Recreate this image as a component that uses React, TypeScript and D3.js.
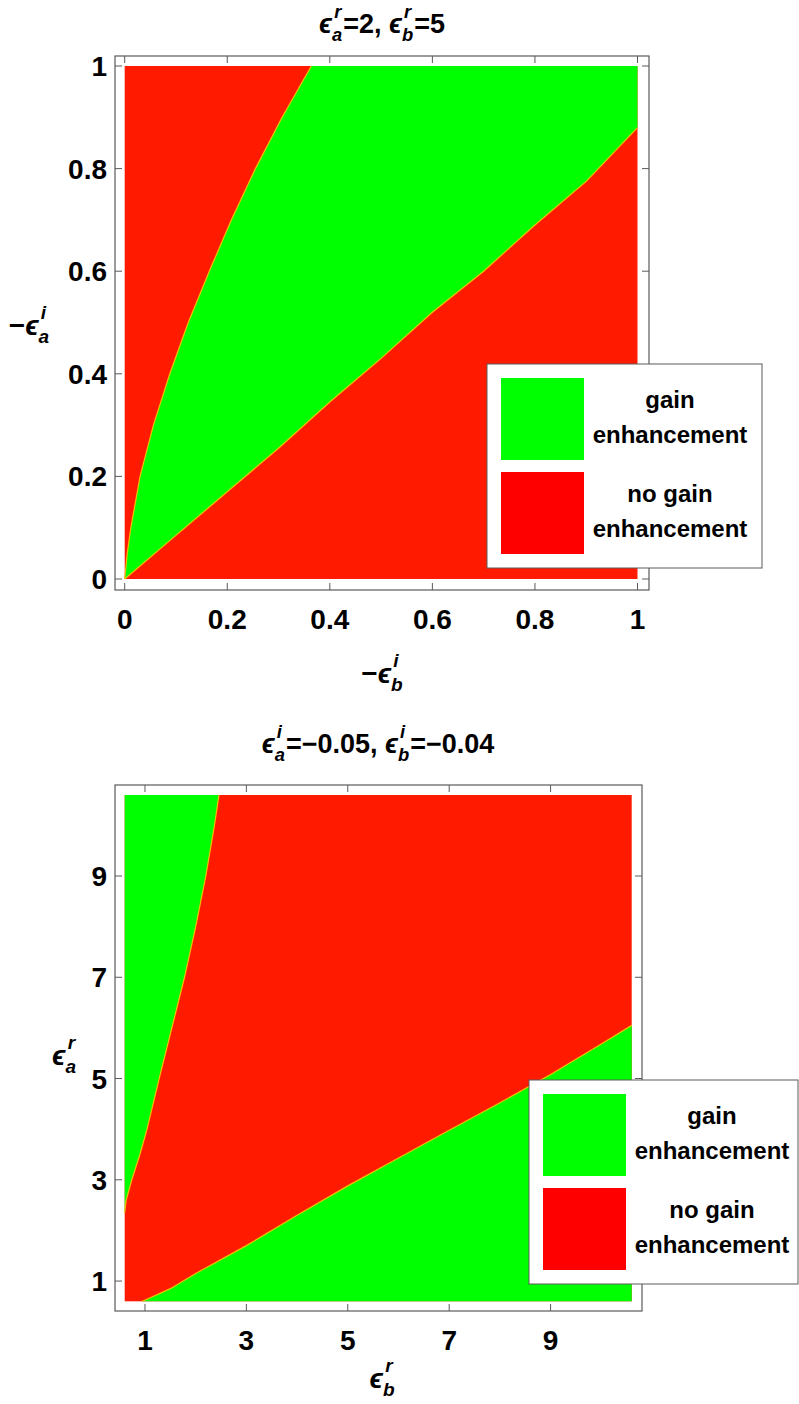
import React from "react";
import * as d3 from "d3";

// ---- top panel: x = -eps_b^i, y = -eps_a^i ----
const topTicks = [0, 0.2, 0.4, 0.6, 0.8, 1];
const topTickLabels = ["0", "0.2", "0.4", "0.6", "0.8", "1"];
const topUpperY = [0, 0.05, 0.1, 0.2, 0.3, 0.4, 0.5, 0.6, 0.7, 0.8, 0.9, 1.0];
const topUpperX = [0, 0.005, 0.012, 0.03, 0.056, 0.088, 0.124, 0.165, 0.208, 0.255, 0.307, 0.364];
const topLowerX = [0, 0.1, 0.2, 0.3, 0.4, 0.5, 0.6, 0.7, 0.8, 0.9, 1.0];
const topLowerY = [0, 0.085, 0.17, 0.255, 0.345, 0.43, 0.52, 0.6, 0.69, 0.775, 0.88];

// ---- bottom panel: x = eps_b^r, y = eps_a^r ----
const botTicks = [1, 3, 5, 7, 9];
const botTickLabels = ["1", "3", "5", "7", "9"];
// edge of the green strip on the left
const botLeftY = [2.35, 2.6, 3, 3.5, 4, 4.5, 5, 6, 7, 8, 9, 10, 10.6];
const botLeftX = [0.6, 0.63, 0.74, 0.9, 1.04, 1.16, 1.28, 1.53, 1.78, 2.0, 2.2, 2.37, 2.46];
// edge of the green region at the bottom right
const botLowerX = [0.95, 1.5, 2, 3, 4, 5, 6, 7, 8, 9, 10, 10.6];
const botLowerY = [0.6, 0.85, 1.15, 1.7, 2.3, 2.88, 3.43, 3.98, 4.52, 5.08, 5.68, 6.05];

const legendLabels = [["gain", "enhancement"], ["no gain", "enhancement"]];

const FONT = "'Liberation Sans', Arial, 'DejaVu Sans', sans-serif";
const RED = "#ff1a00";
const GREEN = "#00ff00";
const LEG_RED = "#ff0000";
const FRAME = "#5a5a5a";
const EDGE = "#f0c000";

type Part = string | { sub: string; sup: string };

const charW: Record<string, number> = { a: 0.556, b: 0.611, r: 0.389, i: 0.278 };

function RichText({ x, y, parts, fs, anchor = "middle" }: { x: number; y: number; parts: Part[]; fs: number; anchor?: string }) {
    const small = fs * 0.68;
    const kids: any[] = [];
    let dx = 0, dy = 0;
    parts.forEach((p, i) => {
        if (typeof p === "string") {
            kids.push(<tspan key={i} dx={dx || undefined} dy={dy || undefined}>{p}</tspan>);
            dx = 0; dy = 0;
        } else {
            kids.push(<tspan key={i + "e"} fontStyle="italic" dx={dx || undefined} dy={dy || undefined}>ϵ</tspan>);
            const sw = charW[p.sub] * small;
            const pw = charW[p.sup] * small;
            const shift = fs * 0.08;
            kids.push(<tspan key={i + "b"} fontStyle="italic" fontSize={small} dy={fs * 0.28}>{p.sub}</tspan>);
            kids.push(<tspan key={i + "p"} fontStyle="italic" fontSize={small} dx={-sw + shift} dy={-fs * 0.28 - fs * 0.56}>{p.sup}</tspan>);
            dx = Math.max(sw - pw - shift, 0) + 1;
            dy = fs * 0.56;
        }
    });
    return (
        <text x={x} y={y} fontSize={fs} fontWeight="bold" fontFamily={FONT} textAnchor={anchor} fill="#000">
            {kids}
        </text>
    );
}

function Legend({ x, y, w }: { x: number; y: number; w: number }) {
    const colors = [GREEN, LEG_RED];
    return (
        <g>
            <rect x={x} y={y} width={w} height={204} fill="#fff" stroke={FRAME} strokeWidth={1} />
            {legendLabels.map((lines, i) => (
                <g key={i}>
                    <rect x={x + 14} y={y + 14 + i * 94} width={83} height={82} fill={colors[i]} />
                    {lines.map((t, j) => (
                        <text key={j} x={x + 183} y={y + 44 + i * 94 + j * 35} fontSize={24} fontWeight="bold"
                            fontFamily={FONT} textAnchor="middle">{t}</text>
                    ))}
                </g>
            ))}
        </g>
    );
}

function Frame({ x, y, frame, ticks, labels }: any) {
    const [fl, fr, ft, fb] = frame;
    const tl = 7;
    return (
        <g>
            <rect x={fl} y={ft} width={fr - fl} height={fb - ft} fill="none" stroke={FRAME} strokeWidth={1.2} />
            {ticks.map((t: number, i: number) => (
                <g key={i} stroke={FRAME} strokeWidth={1}>
                    <line x1={x(t)} x2={x(t)} y1={fb} y2={fb - tl} />
                    <line x1={x(t)} x2={x(t)} y1={ft} y2={ft + tl} />
                    <line x1={fl} x2={fl + tl} y1={y(t)} y2={y(t)} />
                    <line x1={fr} x2={fr - tl} y1={y(t)} y2={y(t)} />
                </g>
            ))}
            {ticks.map((t: number, i: number) => (
                <g key={"l" + i} fontSize={28} fontWeight="bold" fontFamily={FONT}>
                    <text x={x(t)} y={fb + 38.5} textAnchor="middle">{labels[i]}</text>
                    <text x={fl - 8} y={y(t) + 10} textAnchor="end">{labels[i]}</text>
                </g>
            ))}
        </g>
    );
}

function TopPanel() {
    const x = d3.scaleLinear().domain([0, 1]).range([124.7, 637.5]);
    const y = d3.scaleLinear().domain([0, 1]).range([579, 66]);
    const line = d3.line<[number, number]>().x(d => x(d[0])).y(d => y(d[1]));
    const upper: [number, number][] = topUpperY.map((v, i) => [topUpperX[i], v]);
    const lower: [number, number][] = topLowerX.map((v, i) => [v, topLowerY[i]]);
    const green: [number, number][] = [...upper, [1, 1], ...lower.slice().reverse()];
    return (
        <g>
            <rect x={x(0)} y={y(1)} width={x(1) - x(0)} height={y(0) - y(1)} fill={RED} />
            <path d={line(green) + "Z"} fill={GREEN} />
            <path d={line(upper) || ""} fill="none" stroke={EDGE} strokeWidth={1.2} />
            <path d={line(lower) || ""} fill="none" stroke={EDGE} strokeWidth={1.2} />
            <Frame x={x} y={y} frame={[115, 649, 56, 590]} ticks={topTicks} labels={topTickLabels} />
            <RichText x={382} y={33} fs={27} parts={[{ sub: "a", sup: "r" }, "=2, ", { sub: "b", sup: "r" }, "=5"]} />
            <RichText x={29} y={335} fs={28} parts={["\u2212", { sub: "a", sup: "i" }]} />
            <RichText x={382} y={683} fs={28} parts={["\u2212", { sub: "b", sup: "i" }]} />
            <Legend x={487} y={364} w={275} />
        </g>
    );
}

function BottomPanel() {
    const x = d3.scaleLinear().domain([0.6, 10.6]).range([124.7, 631.7]);
    const y = d3.scaleLinear().domain([0.6, 10.6]).range([1301.3, 795]);
    const line = d3.line<[number, number]>().x(d => x(d[0])).y(d => y(d[1]));
    const left: [number, number][] = botLeftY.map((v, i) => [botLeftX[i], v]);
    const lower: [number, number][] = botLowerX.map((v, i) => [v, botLowerY[i]]);
    const greenLeft: [number, number][] = [[0.6, 10.6], ...left];
    const greenLow: [number, number][] = [...lower, [10.6, 0.6]];
    return (
        <g>
            <rect x={x(0.6)} y={y(10.6)} width={x(10.6) - x(0.6)} height={y(0.6) - y(10.6)} fill={RED} />
            <path d={line(greenLeft) + "Z"} fill={GREEN} />
            <path d={line(greenLow) + "Z"} fill={GREEN} />
            <path d={line(left) || ""} fill="none" stroke={EDGE} strokeWidth={1.2} />
            <path d={line(lower) || ""} fill="none" stroke={EDGE} strokeWidth={1.2} />
            <Frame x={x} y={y} frame={[115, 642, 785, 1311]} ticks={botTicks} labels={botTickLabels} />
            <RichText x={378} y={753} fs={27} parts={[{ sub: "a", sup: "i" }, "=\u22120.05, ", { sub: "b", sup: "i" }, "=\u22120.04"]} />
            <RichText x={64} y={1065} fs={28} parts={[{ sub: "a", sup: "r" }]} />
            <RichText x={382} y={1388} fs={28} parts={[{ sub: "b", sup: "r" }]} />
            <Legend x={529} y={1080} w={269} />
        </g>
    );
}

export default function App() {
    return (
        <svg width={799} height={1404} style={{ position: "absolute", left: 0, top: 0, background: "#fff" }}>
            <rect width={799} height={1404} fill="#fff" />
            <TopPanel />
            <BottomPanel />
        </svg>
    );
}
